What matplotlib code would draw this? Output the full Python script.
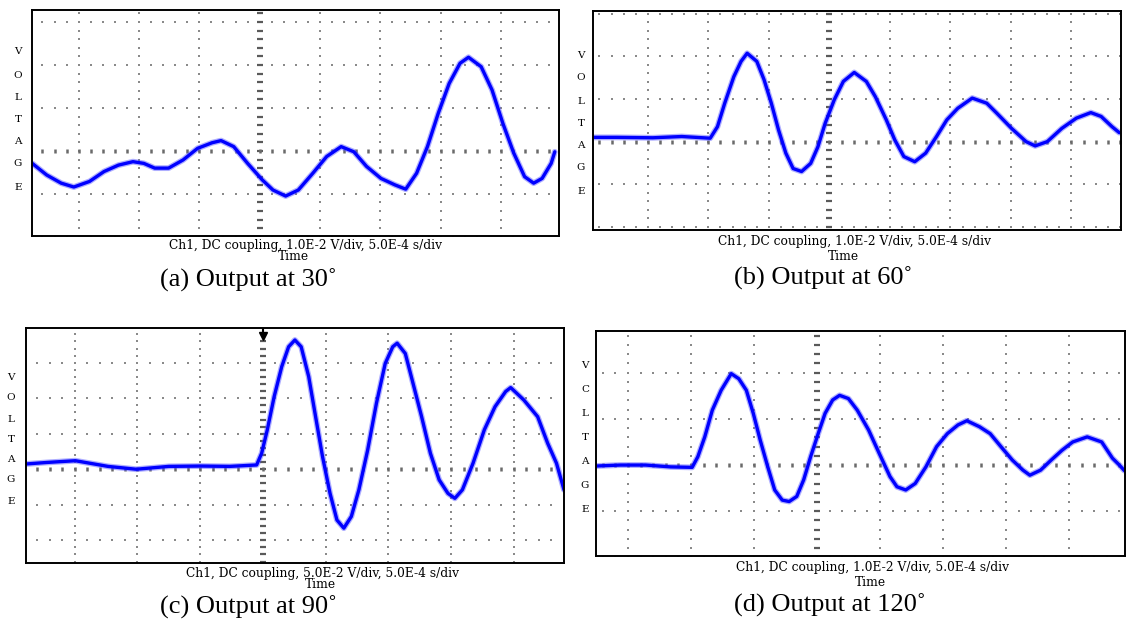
import numpy as np
import matplotlib
from matplotlib import pyplot as plt

matplotlib.use("Agg")

W, H = 1126, 623

a_time = [-3.77, -3.53, -3.29, -3.08, -2.82, -2.58, -2.34, -2.10, -1.92, -1.74, -1.51, -1.27,
          -1.03, -0.79, -0.64, -0.43, -0.20, 0.04, 0.22, 0.43, 0.64, 0.88, 1.11, 1.35, 1.56,
          1.77, 2.01, 2.24, 2.42, 2.60, 2.78, 2.96, 3.14, 3.32, 3.46, 3.67, 3.85, 4.03, 4.21,
          4.39, 4.54, 4.68, 4.83, 4.89]
a_volt = [-0.29, -0.56, -0.75, -0.84, -0.71, -0.48, -0.33, -0.25, -0.29, -0.40, -0.40, -0.21,
          0.06, 0.19, 0.24, 0.10, -0.29, -0.67, -0.91, -1.05, -0.91, -0.52, -0.13, 0.10, -0.02,
          -0.36, -0.64, -0.79, -0.89, -0.52, 0.10, 0.88, 1.57, 2.04, 2.18, 1.96, 1.42, 0.64,
          -0.05, -0.60, -0.75, -0.64, -0.29, -0.02]

b_time = [-3.89, -3.51, -2.92, -2.44, -1.97, -1.85, -1.73, -1.58, -1.46, -1.36, -1.20, -1.08,
          -0.96, -0.84, -0.72, -0.60, -0.46, -0.31, -0.19, -0.07, 0.08, 0.23, 0.41, 0.61, 0.76,
          0.94, 1.08, 1.23, 1.41, 1.59, 1.77, 1.94, 2.12, 2.36, 2.60, 2.77, 3.01, 3.25, 3.40,
          3.60, 3.84, 4.08, 4.32, 4.49, 4.67, 4.79]
b_volt = [0.10, 0.10, 0.09, 0.12, 0.08, 0.35, 0.90, 1.52, 1.88, 2.07, 1.88, 1.45,
          0.90, 0.27, -0.27, -0.63, -0.70, -0.51, -0.12, 0.43, 0.98, 1.41, 1.62, 1.41, 1.05,
          0.51, 0.04, -0.35, -0.47, -0.27, 0.12, 0.51, 0.78, 1.02, 0.90, 0.66, 0.31, 0.00, -0.10,
          0.00, 0.31, 0.55, 0.68, 0.59, 0.35, 0.21]

c_time = [-3.76, -3.45, -2.99, -2.47, -2.02, -1.50, -0.99, -0.53, -0.10, -0.02, 0.07, 0.18,
          0.30, 0.41, 0.51, 0.61, 0.73, 0.84, 0.95, 1.07, 1.18, 1.29, 1.41, 1.53, 1.67, 1.81,
          1.95, 2.07, 2.14, 2.27, 2.38, 2.53, 2.67, 2.81, 2.95, 3.06, 3.18, 3.35, 3.53, 3.70,
          3.87, 3.95, 4.16, 4.38, 4.54, 4.68, 4.80]
c_volt = [0.15, 0.19, 0.24, 0.08, 0.00, 0.08, 0.09, 0.08, 0.12, 0.45, 1.11, 2.05,
          2.89, 3.45, 3.64, 3.45, 2.61, 1.48, 0.36, -0.68, -1.43, -1.66, -1.33, -0.58, 0.54, 1.86,
          2.98, 3.45, 3.55, 3.26, 2.51, 1.48, 0.45, -0.30, -0.68, -0.82, -0.58, 0.17, 1.11, 1.76,
          2.19, 2.30, 1.95, 1.48, 0.73, 0.17, -0.58]

d_time = [-3.49, -3.12, -2.72, -2.32, -1.98, -1.89, -1.78, -1.66, -1.52, -1.36, -1.24, -1.12,
          -1.01, -0.90, -0.78, -0.67, -0.55, -0.44, -0.32, -0.21, -0.10, 0.02, 0.13, 0.25, 0.36,
          0.50, 0.64, 0.82, 0.99, 1.16, 1.27, 1.41, 1.56, 1.73, 1.90, 2.07, 2.24, 2.38, 2.58,
          2.75, 2.92, 3.10, 3.27, 3.38, 3.55, 3.72, 3.89, 4.06, 4.29, 4.52, 4.69, 4.80, 4.88]
d_volt = [-0.02, 0.00, 0.00, -0.04, -0.05, 0.18, 0.61, 1.19, 1.62, 1.98, 1.87, 1.62,
          1.12, 0.54, -0.04, -0.54, -0.76, -0.79, -0.68, -0.32, 0.18, 0.68, 1.12, 1.41, 1.51,
          1.44, 1.19, 0.76, 0.25, -0.25, -0.47, -0.54, -0.40, -0.04, 0.40, 0.68, 0.87, 0.96, 0.83,
          0.68, 0.40, 0.11, -0.11, -0.22, -0.11, 0.11, 0.32, 0.50, 0.61, 0.50, 0.15, 0.00, -0.12]

scale_texts = [
    "Ch1, DC coupling, 1.0E-2 V/div, 5.0E-4 s/div",
    "Ch1, DC coupling, 1.0E-2 V/div, 5.0E-4 s/div",
    "Ch1, DC coupling, 5.0E-2 V/div, 5.0E-4 s/div",
    "Ch1, DC coupling, 1.0E-2 V/div, 5.0E-4 s/div",
]
captions = ["(a) Output at 30˚", "(b) Output at 60˚", "(c) Output at 90˚", "(d) Output at 120˚"]
side_labels = ["VOLTAGE", "VOLTAGE", "VOLTAGE", "VCLTAGE"]

# layout in pixels: screen box (left, top, right, bottom), visible divisions, text spots
panels = [
    dict(box=(31.6, 10, 559, 236), xlim=(-3.78, 4.96), ylim=(-1.98, 3.28),
         letters_x=18, letters_y=[51, 75, 98, 119, 142, 164, 187],
         scale_xy=(305, 245), time_xy=(293, 257), cap_xy=(248, 280)),
    dict(box=(592.8, 11, 1120.5, 230), xlim=(-3.91, 4.81), ylim=(-2.07, 3.06),
         letters_x=581, letters_y=[55, 78, 102, 124, 146, 168, 191],
         scale_xy=(854, 241), time_xy=(843, 257), cap_xy=(823, 278)),
    dict(box=(25.8, 328.3, 564, 563.3), xlim=(-3.78, 4.80), ylim=(-2.65, 3.97),
         letters_x=11, letters_y=[377, 398, 419, 440, 460, 480, 502],
         scale_xy=(322, 573), time_xy=(320, 585), cap_xy=(248, 607)),
    dict(box=(596.4, 330.7, 1125, 556), xlim=(-3.50, 4.89), ylim=(-1.97, 2.91),
         letters_x=585, letters_y=[365, 390, 414, 438, 462, 485, 510],
         scale_xy=(872, 567), time_xy=(870, 582), cap_xy=(830, 605)),
]
traces = [(a_time, a_volt), (b_time, b_volt), (c_time, c_volt), (d_time, d_volt)]

SERIF = ["DejaVu Serif"]
TIMES = ["Liberation Serif", "DejaVu Serif"]


def fig_xy(px, py):
    return px / W, 1 - py / H


def draw_graticule(ax, xlim, ylim):
    x_major = [x for x in range(-6, 7) if xlim[0] + 0.05 < x < xlim[1] - 0.05 and x != 0]
    y_major = [y for y in range(-4, 5) if ylim[0] - 0.05 <= y <= ylim[1] + 0.05 and y != 0]
    fine_x = np.arange(np.ceil(xlim[0] / 0.2) * 0.2, xlim[1], 0.2)
    fine_y = np.arange(np.ceil(ylim[0] / 0.2) * 0.2, ylim[1], 0.2)
    dot = dict(ls="none", marker="s", ms=1.7, mew=0, color="#8a8a8a")
    for x in x_major:
        ax.plot(np.full_like(fine_y, x), fine_y, **dot)
    for y in y_major:
        ax.plot(fine_x, np.full_like(fine_x, y), **dot)
    ax.plot(np.zeros_like(fine_y), fine_y, ls="none", marker="_", ms=4.5, mew=1.6, color="#5a5a5a")
    ax.plot(fine_x, np.zeros_like(fine_x), ls="none", marker="|", ms=3.5, mew=1.8, color="#6a6a6a")


fig = plt.figure(figsize=(W / 100, H / 100), dpi=100)

for index, panel in enumerate(panels):
    left, top, right, bottom = panel["box"]
    x0, y0 = fig_xy(left, bottom)
    ax = fig.add_axes([x0, y0, (right - left) / W, (bottom - top) / H])
    ax.set_xlim(*panel["xlim"])
    ax.set_ylim(*panel["ylim"])
    ax.set_xticks([])
    ax.set_yticks([])
    for spine in ax.spines.values():
        spine.set_linewidth(1.4)
        spine.set_color("black")

    draw_graticule(ax, panel["xlim"], panel["ylim"])

    t, v = traces[index]
    ax.plot(t, v, color="#4d4dff", lw=4.2, alpha=0.45, solid_joinstyle="round", solid_capstyle="round")
    ax.plot(t, v, color="#0000ff", lw=2.4, solid_joinstyle="round", solid_capstyle="round")

    if index == 2:
        # trigger marker at top of the screen
        top_y = panel["ylim"][1]
        ax.plot([0], [top_y - 0.22], marker="v", ms=6, color="black", clip_on=False)
        ax.plot([0, 0], [top_y, top_y - 0.2], color="black", lw=1.5)

    for letter, ly in zip(side_labels[index], panel["letters_y"]):
        fx, fy = fig_xy(panel["letters_x"], ly)
        fig.text(fx, fy, letter, family=SERIF, fontsize=7.5, ha="center", va="center")

    fx, fy = fig_xy(*panel["scale_xy"])
    fig.text(fx, fy, scale_texts[index], family=SERIF, fontsize=8.8, ha="center", va="center")
    fx, fy = fig_xy(*panel["time_xy"])
    fig.text(fx, fy, "Time", family=SERIF, fontsize=8.8, ha="center", va="center")
    fx, fy = fig_xy(*panel["cap_xy"])
    fig.text(fx, fy, captions[index], family=TIMES, fontsize=19, ha="center", va="center")

fig.savefig("out.png", dpi=100)
plt.close(fig)
